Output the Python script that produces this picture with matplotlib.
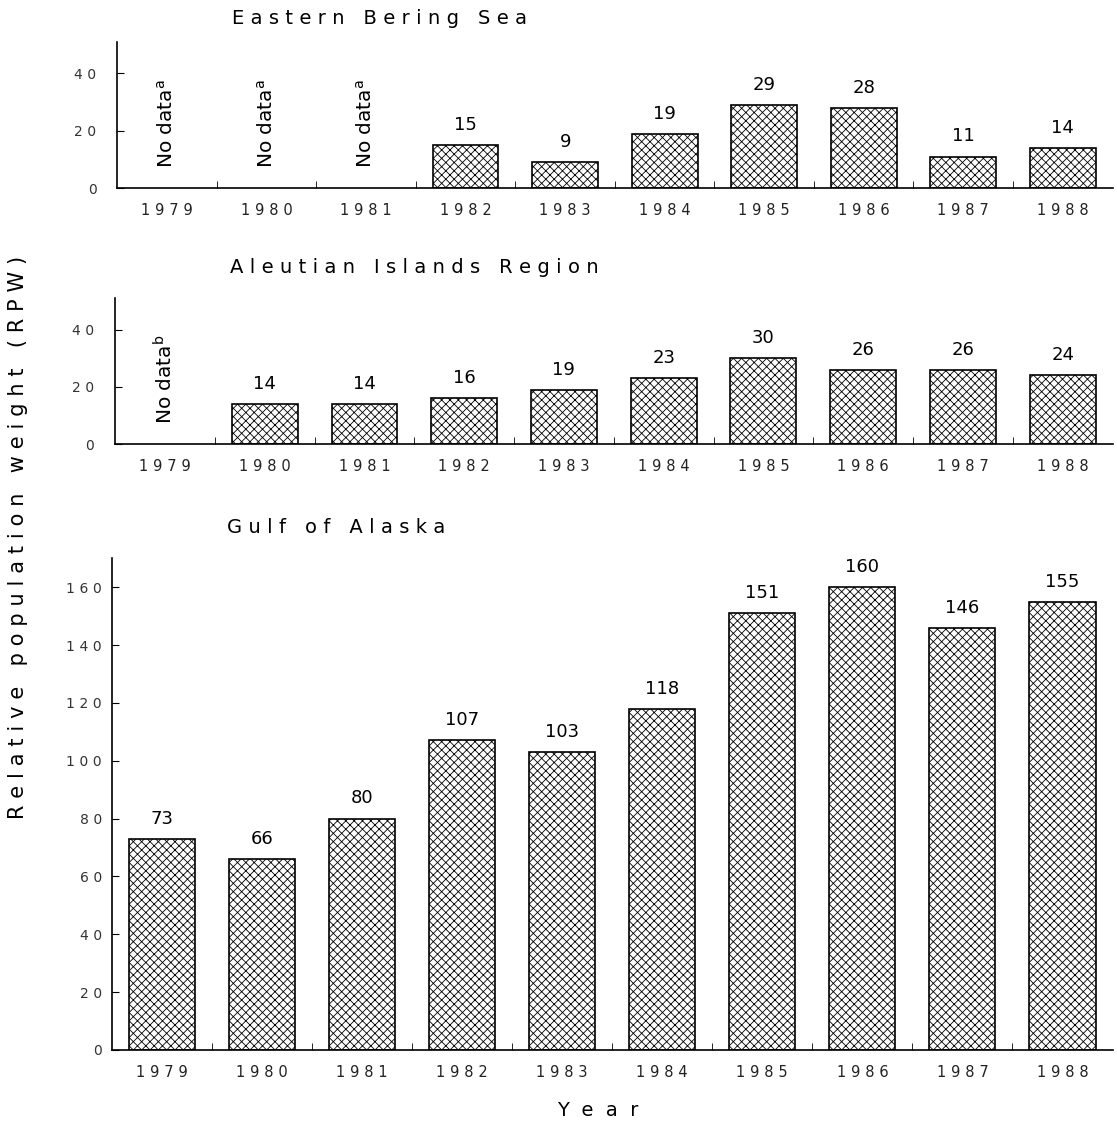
import matplotlib
matplotlib.use('Agg')
import matplotlib.pyplot as plt
import numpy as np

# Data
years = ['1979', '1980', '1981', '1982', '1983', '1984', '1985', '1986', '1987', '1988']
bering = [None, None, None, 15, 9, 19, 29, 28, 11, 14]
aleutian = [None, 14, 14, 16, 19, 23, 30, 26, 26, 24]
gulf = [73, 66, 80, 107, 103, 118, 151, 160, 146, 155]

bering_note = 'a'
aleutian_note = 'b'

GAP = '\u2004'  # three-per-em space


def spaced(s):
    # typewriter-like letter spacing
    return GAP.join(list(s))


plt.rcParams['hatch.linewidth'] = 0.6
sans = 'DejaVu Sans'

fig = plt.figure(figsize=(11.17, 11.33), dpi=100)

panels = [
    ('Eastern Bering Sea', bering, bering_note, [0.105, 0.834, 0.891, 0.129], 51, [0, 20, 40], 17, 15),
    ('Aleutian Islands Region', aleutian, aleutian_note, [0.103, 0.608, 0.893, 0.129], 51, [0, 20, 40], 22, 15),
    ('Gulf of Alaska', gulf, None, [0.100, 0.0733, 0.896, 0.434], 170, list(range(0, 161, 20)), 22, 7),
]

x = np.arange(len(years))
for title, vals, note, rect, ytop, yticks, title_off, ypad in panels:
    ax = fig.add_axes(rect)
    heights = [v if v is not None else 0 for v in vals]
    bars = ax.bar(x, heights, width=0.66, color='white', edgecolor='black',
                  linewidth=1.2, hatch='xxxx')
    for i, v in enumerate(vals):
        if v is None:
            bars[i].set_visible(False)
            ax.text(i, 22.5, 'No data$^{\\mathrm{%s}}$' % note, rotation=90,
                    ha='center', va='center', fontsize=14.5, family=sans)
        else:
            ax.annotate(str(v), (i, v), xytext=(0, 8), textcoords='offset points',
                        ha='center', va='bottom', fontsize=13, family=sans)
    ax.set_xlim(-0.5, len(years) - 0.5)
    ax.set_ylim(0, ytop)
    ax.set_yticks(yticks)
    ax.set_yticklabels([spaced(str(t)) for t in yticks], family=sans,
                       fontsize=10, color='#333333')
    ax.set_xticks(x)
    ax.set_xticklabels([spaced(y) for y in years], family=sans, fontsize=10.5,
                       color='#222222')
    ax.set_xticks(x[:-1] + 0.5, minor=True)
    ax.tick_params(axis='x', which='major', length=0, pad=11)
    ax.tick_params(axis='x', which='minor', direction='in', length=5)
    ax.tick_params(axis='y', direction='in', length=5, pad=ypad)
    for s in ['top', 'right']:
        ax.spines[s].set_visible(False)
    ax.spines['left'].set_linewidth(1.2)
    ax.spines['bottom'].set_linewidth(1.2)
    ax.annotate(spaced(title), (0.115, 1.0), xycoords='axes fraction',
                xytext=(0, title_off), textcoords='offset points',
                ha='left', va='center', fontsize=14, family=sans)

fig.text(0.016, 0.526, spaced('Relative population weight (RPW)'), rotation=90,
         ha='center', va='center', fontsize=15, family=sans)
fig.text(0.535, 0.02, 'Y  e  a  r', ha='center', va='center', fontsize=14,
         family=sans)

fig.savefig('out.png', dpi=100)
